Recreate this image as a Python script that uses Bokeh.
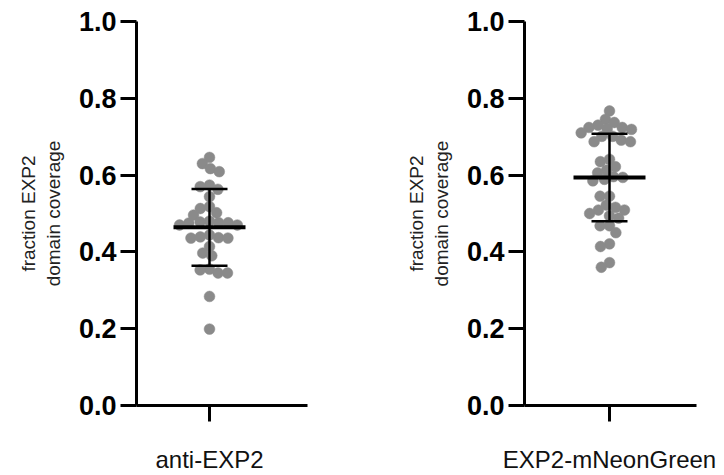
import math
from bokeh.plotting import figure
from bokeh.layouts import row
from bokeh.models import Range1d, FixedTicker, NumeralTickFormatter
from bokeh.embed import file_html
from bokeh.resources import INLINE

# ---------------- data ----------------
categories = ["anti-EXP2", "EXP2-mNeonGreen"]

anti_exp2 = [0.646, 0.630, 0.617, 0.609, 0.574, 0.570, 0.563, 0.544, 0.518, 0.513,
             0.502, 0.496, 0.480, 0.478, 0.476, 0.476, 0.475, 0.470, 0.470, 0.444,
             0.439, 0.437, 0.436, 0.436, 0.414, 0.397, 0.390, 0.355, 0.353, 0.345,
             0.345, 0.284, 0.199]

exp2_mneongreen = [0.767, 0.745, 0.737, 0.730, 0.724, 0.724, 0.721, 0.719, 0.710, 0.701,
                   0.701, 0.691, 0.687, 0.687, 0.641, 0.635, 0.622, 0.613, 0.606, 0.596,
                   0.594, 0.589, 0.585, 0.545, 0.545, 0.522, 0.516, 0.509, 0.509, 0.500,
                   0.494, 0.488, 0.468, 0.468, 0.450, 0.421, 0.414, 0.372, 0.360]

means = [0.464, 0.594]
sds = [0.100, 0.114]

y_ticks = [0.0, 0.2, 0.4, 0.6, 0.8, 1.0]
y_axis_label = "fraction EXP2\ndomain coverage"

# ---------------- styling ----------------
FONT = "Liberation Sans"
DOT_COLOR = "#8a8a8a"
FRAME_H = 385
DOT_D = 10.8
MIN_SEP = 9.4


def swarm(values, frame_h, sep):
    """Simple beeswarm: offsets (in px) so that dots don't collide too much."""
    order = sorted(range(len(values)), key=lambda i: -values[i])
    placed = []
    offs = [0.0] * len(values)
    for i in order:
        y = values[i] * frame_h
        cands = [0.0]
        for (px, py) in placed:
            dy = abs(y - py)
            if dy < sep:
                dx = math.sqrt(sep * sep - dy * dy)
                cands += [px - dx, px + dx]
        cands.sort(key=lambda c: (abs(c), c))
        chosen = cands[-1]
        for c in cands:
            if all((c - px) ** 2 + (y - py) ** 2 >= sep * sep - 1e-6 for px, py in placed):
                chosen = c
                break
        placed.append((chosen, y))
        offs[i] = chosen
    return offs


def make_panel(vals, mean, sd, label, x_lo, x_hi, width, border_left, border_right):
    p = figure(width=width, height=475, output_backend="svg", toolbar_location=None,
               x_range=Range1d(x_lo, x_hi), y_range=Range1d(0, 1),
               min_border_left=border_left, min_border_right=border_right,
               min_border_top=21, min_border_bottom=69)
    p.outline_line_color = None
    p.xgrid.visible = False
    p.ygrid.visible = False
    p.background_fill_color = "white"
    p.border_fill_color = "white"

    xs = swarm(vals, FRAME_H, MIN_SEP)
    p.scatter(xs, vals, size=DOT_D, fill_color=DOT_COLOR, line_color=DOT_COLOR, line_width=0.5)

    # mean line and SD bar
    p.segment(x0=[-36], y0=[mean], x1=[36], y1=[mean], line_color="black", line_width=4)
    p.segment(x0=[0], y0=[mean - sd], x1=[0], y1=[mean + sd], line_color="black", line_width=2.5)
    p.segment(x0=[-18, -18], y0=[mean - sd, mean + sd], x1=[18, 18], y1=[mean - sd, mean + sd],
              line_color="black", line_width=2.5)

    # y axis
    ya = p.yaxis[0]
    ya.ticker = FixedTicker(ticks=y_ticks)
    ya.formatter = NumeralTickFormatter(format="0.0")
    ya.minor_tick_line_color = None
    ya.major_tick_in = 0
    ya.major_tick_out = 16
    ya.major_tick_line_width = 3
    ya.axis_line_width = 3
    ya.major_label_text_font = FONT
    ya.major_label_text_font_style = "bold"
    ya.major_label_text_font_size = "27px"
    ya.major_label_text_color = "black"
    ya.major_label_standoff = 4
    ya.axis_label = y_axis_label
    ya.axis_label_text_font = FONT
    ya.axis_label_text_font_style = "normal"
    ya.axis_label_text_font_size = "19px"
    ya.axis_label_text_color = "#222222"
    ya.axis_label_standoff = 12

    # x axis (category tick + label)
    xa = p.xaxis[0]
    xa.ticker = FixedTicker(ticks=[0])
    xa.major_label_overrides = {0: label}
    xa.major_label_text_font = FONT
    xa.major_label_text_font_size = "24px"
    xa.major_label_text_color = "#111111"
    xa.major_label_standoff = 24
    xa.minor_tick_line_color = None
    xa.major_tick_in = 0
    xa.major_tick_out = 16
    xa.major_tick_line_width = 3
    xa.axis_line_width = 3
    return p


p1 = make_panel(anti_exp2, means[0], sds[0], categories[0], -73, 98, 366, 136, 59)
p2 = make_panel(exp2_mneongreen, means[1], sds[1], categories[1], -85, 87, 350, 158, 20)

layout = row(p1, p2)
open("out.html", "w").write(file_html(layout, INLINE))
